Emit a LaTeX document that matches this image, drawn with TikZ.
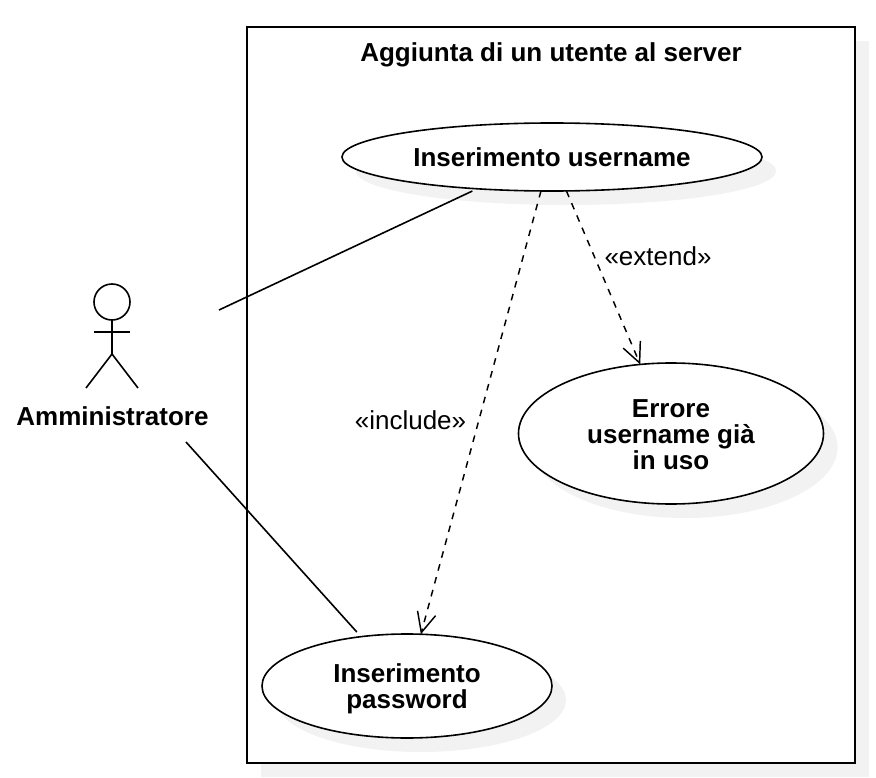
\documentclass[tikz,border=0pt]{standalone}
\usepackage{fontspec}
\setmainfont{Liberation Sans}
\usetikzlibrary{shapes.geometric,shadows,arrows.meta}
\definecolor{shadowgray}{HTML}{F2F2F2}
\tikzset{
  softshadow/.style={general shadow={shadow xshift=10.5pt,shadow yshift=-10.5pt,fill=shadowgray}},
  usecase/.style={ellipse,draw=black,line width=1.2pt,fill=white,softshadow,inner sep=0pt,outer sep=0pt,align=center,
    font=\fontsize{19.5pt}{19.5pt}\selectfont\bfseries},
  framebox/.style={rectangle,draw=black,line width=1.6pt,fill=white,softshadow,inner sep=0pt,outer sep=0pt,minimum width=456pt,minimum height=552pt},
  boldlabel/.style={inner sep=0pt,font=\fontsize{19.5pt}{19.5pt}\selectfont\bfseries},
  stereotype/.style={inner sep=0pt,font=\fontsize{19.5pt}{19.5pt}\selectfont},
  assoc/.style={line width=1.2pt,draw=black},
  dep/.style={line width=1.1pt,draw=black,dash pattern=on 5pt off 5pt,-{Straight Barb[length=15pt,width=14pt,line width=1.1pt]}},
  actorline/.style={line width=1.2pt,draw=black}
}
\begin{document}
\begin{tikzpicture}[x=0.75pt,y=-0.75pt]
\useasboundingbox (0,0) rectangle (876,778);
\fill[white] (0,0) rectangle (876,778);
\node[framebox] (frame) at (551,395) {};
\node[boldlabel] (title) at (551,54.5) {Aggiunta di un utente al server};
\node[usecase,minimum width=315pt,minimum height=51pt] (u1) at (552,157) {Inserimento username};
\node[usecase,minimum width=228.75pt,minimum height=105.75pt] (u2) at (671,433.5) {\rule{0pt}{15.7pt}Errore\\username già\\in uso};
\node[usecase,minimum width=217.5pt,minimum height=78pt] (u3) at (407,686) {\rule{0pt}{18.7pt}Inserimento\\password};
% actor
\node[circle,draw=black,line width=1.2pt,inner sep=0pt,outer sep=0pt,minimum size=27pt] (head) at (112,302) {};
\coordinate (hip) at (112,354);
\coordinate (armL) at (94,332);
\coordinate (armR) at (130,332);
\coordinate (legL) at (86,388);
\coordinate (legR) at (138,388);
\draw[actorline] (head) -- (hip);
\draw[actorline] (armL) -- (armR);
\draw[actorline] (legL) -- (hip) -- (legR);
\node[boldlabel] (actor) at (112.5,416) {Amministratore};
\coordinate (a1) at (219,310);
\coordinate (a2) at (186,442);
% connectors
\draw[assoc,shorten >=4pt] (a1) -- (u1.203.5);
\draw[assoc,shorten >=4.7pt] (a2) -- (u3.133.5);
\draw[dep] (u1.252.6) -- (u3.75.2);
\draw[dep] (u1.293.2) -- (u2.114.1);
\node[stereotype] (inc) at (410.5,420) {«include»};
\node[stereotype] (ext) at (658,256) {«extend»};
\end{tikzpicture}
\end{document}
